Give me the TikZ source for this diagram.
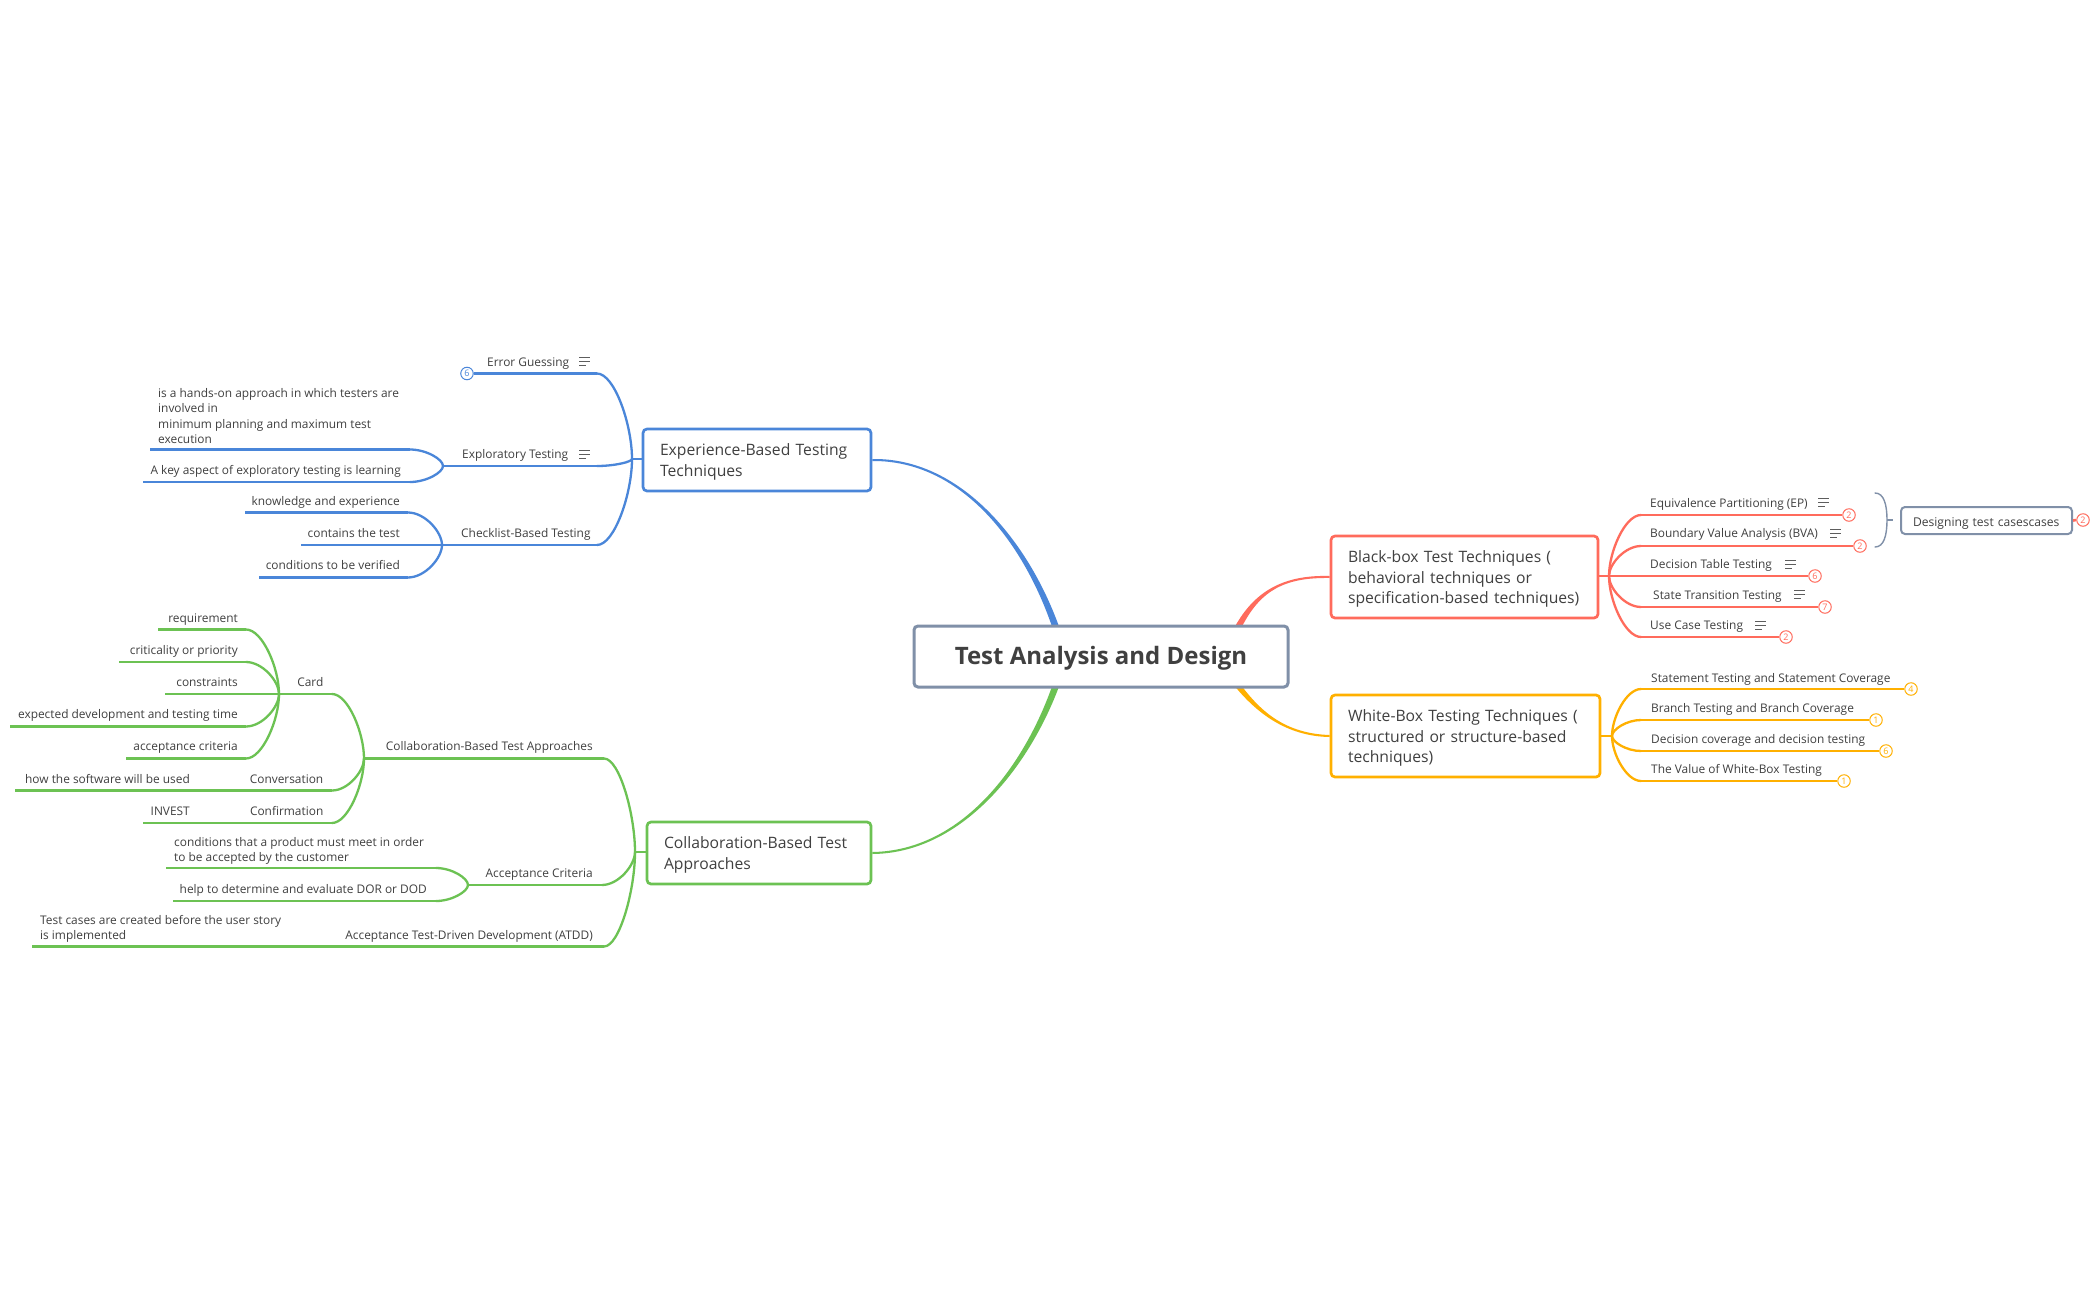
\documentclass[tikz,border=0pt]{standalone}
\usepackage{fontspec}
\setmainfont{Open Sans}
\usetikzlibrary{calc}
\definecolor{cblue}{HTML}{4A86D9}
\definecolor{cgreen}{HTML}{6CC253}
\definecolor{cred}{HTML}{FF6B5C}
\definecolor{cyel}{HTML}{FFB000}
\definecolor{cgray}{HTML}{8090A8}
\definecolor{ctext}{HTML}{404040}
\pgfdeclarelayer{bg}
\pgfsetlayers{bg,main}
\tikzset{
  x=1pt,y=-1pt,
  lbl/.style={inner sep=0pt,text=ctext,font=\fontsize{11.9}{15.6}\selectfont,align=left,yshift=-2pt},
  topbox/.style={draw=#1,fill=white,line width=2.7pt,rounded corners=4pt,inner xsep=17pt,inner ysep=0pt,text=ctext,align=left,font=\fontsize{15.7}{20.5}\selectfont,anchor=center},
  badge/.style={circle,draw=#1,fill=white,text=#1,line width=1pt,minimum size=12.5pt,inner sep=0pt,font=\fontsize{9}{9}\selectfont},
  crv/.style={line width=2.3pt,line cap=round},
  hln/.style={line width=2.6pt},
}
\newcommand{\lnk}[4]{%
  \draw[crv,#1] (#2) .. controls ($(#2|-#3)!.6!(#2)$) and ($(#3)!.5!(#2|-#3)$) .. (#3);
  \draw[hln,#1] (#3) -- (#4);}
\newcommand{\iconl}[2]{%
  \begin{scope}[shift={(#1,#2)},line width=1pt,draw=ctext!85]
  \draw (0,0) -- (11,0); \draw (0,4) -- (11,4); \draw (0,8) -- (6.5,8);
  \end{scope}}
\newcommand{\taper}[7]{% colour, A, c1, c2, B, half width, side
  \fill[#1] ($(#2)+(0,-#7)$) .. controls ($(#3)+(0,-1.3*#7)$) and ($(#4)+(#6*.8,0)$) .. ($(#5)+(#6,0)$) -- ($(#5)+(-#6,0)$) .. controls ($(#4)+(-#6*.8,0)$) and ($(#3)+(0,1.3*#7)$) .. ($(#2)+(0,#7)$) -- cycle;}
\begin{document}
\begin{tikzpicture}
\useasboundingbox (0,0) rectangle (2100,1300);

% --- boxes
\node[topbox=cgray,line width=3pt,minimum width=374pt,minimum height=61pt,align=center,font=\fontsize{24}{28}\selectfont\bfseries,inner xsep=0pt] (central) at (1101,656.5) {\rule{0pt}{22pt}Test Analysis and Design};
\node[topbox=cblue,minimum width=228pt,minimum height=62pt,text width=194pt] (expbox) at (757,460) {\rule{0pt}{16pt}Experience-Based Testing\\Techniques};
\node[topbox=cgreen,minimum width=224pt,minimum height=62pt,text width=190pt] (colbox) at (759,853) {\rule{0pt}{16pt}Collaboration-Based Test\\Approaches};
\node[topbox=cred,minimum width=267pt,minimum height=82pt,text width=233pt] (bbbox) at (1464.5,577) {\rule{0pt}{16pt}Black-box Test Techniques (\\behavioral techniques or\\specification-based techniques)};
\node[topbox=cyel,minimum width=269pt,minimum height=82pt,text width=235pt] (wbbox) at (1465.5,736) {\rule{0pt}{16pt}White-Box Testing Techniques (\\structured or structure-based\\techniques)};
\node[topbox=cgray,line width=2pt,minimum width=171pt,minimum height=27pt,inner xsep=12pt,text width=147pt,font=\fontsize{12.1}{14}\selectfont] (desbox) at (1986.5,520.5) {\rule{0pt}{15pt}Designing test casescases};

% --- central edges
\coordinate (cb) at ($(central.north west)+(143,0)$);
\coordinate (cg) at ($(central.south west)+(143,0)$);
\coordinate (cr) at ($(central.north west)+(326,0)$);
\coordinate (cy) at ($(central.south west)+(326,0)$);
\begin{pgfonlayer}{bg}
\fill[white] (0,0) rectangle (2100,1300);
\taper{cblue}{expbox.east}{960,459}{1025,540}{$(cb)+(0,2)$}{3.5}{1}
\taper{cgreen}{colbox.east}{960,852}{1025,770}{$(cg)+(0,-2)$}{3.5}{-1}
\taper{cred}{bbbox.west}{1285,576}{1258,590}{$(cr)+(0,2)$}{3.5}{-1}
\taper{cyel}{wbbox.west}{1285,735}{1258,711}{$(cy)+(0,-2)$}{3.5}{1}
\end{pgfonlayer}

% --- experience branch (blue)
\coordinate (Jexp) at (632,459);
\draw[hln,cblue] (Jexp) -- (expbox.west|-Jexp);
\node[lbl,anchor=mid west] (eg) at (487,362) {Error Guessing};
\iconl{579}{357}
\node[badge=cblue] (egb) at (467,373.5) {6};
\coordinate (Reg) at (597,373.5);
\lnk{cblue}{Jexp}{Reg}{egb.east}
\node[lbl,anchor=mid west] (et) at (462,454) {Exploratory Testing};
\iconl{579}{450}
\coordinate (Ret) at (597,466);
\coordinate (Jet) at (443,466);
\lnk{cblue}{Jexp}{Ret}{Jet}
\node[lbl,anchor=west] (et1) at (158,414) {is a hands-on approach in which testers are\\involved in\\minimum planning and maximum test\\execution};
\coordinate (Ret1) at (410,449.5); \coordinate (Let1) at (150,449.5);
\lnk{cblue}{Jet}{Ret1}{Let1}
\node[lbl,anchor=mid east] (et2) at (401,470) {A key aspect of exploratory testing is learning};
\coordinate (Ret2) at (410,482); \coordinate (Let2) at (143,482);
\lnk{cblue}{Jet}{Ret2}{Let2}
\node[lbl,anchor=mid west] (cb0) at (461,533) {Checklist-Based Testing};
\coordinate (Rcb) at (597,545); \coordinate (Jcb) at (442,545);
\lnk{cblue}{Jexp}{Rcb}{Jcb}
\node[lbl,anchor=mid east] (cb1) at (400,501) {knowledge and experience};
\coordinate (Rcb1) at (408,512.5); \coordinate (Lcb1) at (245,512.5);
\lnk{cblue}{Jcb}{Rcb1}{Lcb1}
\node[lbl,anchor=mid east] (cb2) at (400,533) {contains the test};
\coordinate (Rcb2) at (408,545); \coordinate (Lcb2) at (301,545);
\lnk{cblue}{Jcb}{Rcb2}{Lcb2}
\node[lbl,anchor=mid east] (cb3) at (400,565) {conditions to be verified};
\coordinate (Rcb3) at (408,577.5); \coordinate (Lcb3) at (259,577.5);
\lnk{cblue}{Jcb}{Rcb3}{Lcb3}

% --- collaboration branch (green)
\coordinate (Jcol) at (635,852);
\draw[hln,cgreen] (Jcol) -- (colbox.west|-Jcol);
\node[lbl,anchor=mid east] (ca) at (593,746) {Collaboration-Based Test Approaches};
\coordinate (Rca) at (604,758.5); \coordinate (Jca) at (364,758.5);
\lnk{cgreen}{Jcol}{Rca}{Jca}
\node[lbl,anchor=mid east] (card) at (323.5,682) {Card};
\coordinate (Rcard) at (332,694); \coordinate (Jcard) at (279,694);
\lnk{cgreen}{Jca}{Rcard}{Jcard}
\node[lbl,anchor=mid east] (c1) at (238,618) {requirement};
\coordinate (Rc1) at (246,629.5); \coordinate (Lc1) at (158,629.5);
\lnk{cgreen}{Jcard}{Rc1}{Lc1}
\node[lbl,anchor=mid east] (c2) at (238,650) {criticality or priority};
\coordinate (Rc2) at (246,662); \coordinate (Lc2) at (119,662);
\lnk{cgreen}{Jcard}{Rc2}{Lc2}
\node[lbl,anchor=mid east] (c3) at (238,682) {constraints};
\coordinate (Rc3) at (246,694); \coordinate (Lc3) at (165,694);
\lnk{cgreen}{Jcard}{Rc3}{Lc3}
\node[lbl,anchor=mid east] (c4) at (238,714) {expected development and testing time};
\coordinate (Rc4) at (246,726.5); \coordinate (Lc4) at (10,726.5);
\lnk{cgreen}{Jcard}{Rc4}{Lc4}
\node[lbl,anchor=mid east] (c5) at (238,746) {acceptance criteria};
\coordinate (Rc5) at (246,758.5); \coordinate (Lc5) at (126,758.5);
\lnk{cgreen}{Jcard}{Rc5}{Lc5}
\node[lbl,anchor=mid east] (conv) at (323.5,779) {Conversation};
\coordinate (Rconv) at (332,790.5); \coordinate (Lconv) at (15,790.5);
\lnk{cgreen}{Jca}{Rconv}{Lconv}
\node[lbl,anchor=mid east] (how) at (190,779) {how the software will be used};
\node[lbl,anchor=mid east] (conf) at (323.5,811) {Confirmation};
\coordinate (Rconf) at (332,823); \coordinate (Lconf) at (143,823);
\lnk{cgreen}{Jca}{Rconf}{Lconf}
\node[lbl,anchor=mid east] (inv) at (190,811) {INVEST};
\node[lbl,anchor=mid east] (ac) at (593,873) {Acceptance Criteria};
\coordinate (Rac) at (602,885); \coordinate (Jac) at (468,885);
\lnk{cgreen}{Jcol}{Rac}{Jac}
\node[lbl,anchor=west] (ac1) at (174,849) {conditions that a product must meet in order\\to be accepted by the customer};
\coordinate (Rac1) at (436,868); \coordinate (Lac1) at (166,868);
\lnk{cgreen}{Jac}{Rac1}{Lac1}
\node[lbl,anchor=mid east] (ac2) at (427,889) {help to determine and evaluate DOR or DOD};
\coordinate (Rac2) at (436,901); \coordinate (Lac2) at (173,901);
\lnk{cgreen}{Jac}{Rac2}{Lac2}
\node[lbl,anchor=mid east] (atdd) at (593,935) {Acceptance Test-Driven Development (ATDD)};
\coordinate (Ratdd) at (604,946.5); \coordinate (Latdd) at (32,946.5);
\lnk{cgreen}{Jcol}{Ratdd}{Latdd}
\node[lbl,anchor=west] (at1) at (40,927) {Test cases are created before the user story\\is implemented};

% --- black-box branch (red)
\coordinate (Jbb) at (1609,576);
\draw[hln,cred] (Jbb) -- (bbbox.east|-Jbb);
\node[lbl,anchor=mid west] (b1) at (1650,503) {Equivalence Partitioning (EP)};
\iconl{1818}{498}
\node[badge=cred] (b1b) at (1849,515) {2};
\coordinate (Rb1) at (1641,515);
\lnk{cred}{Jbb}{Rb1}{b1b.west}
\node[lbl,anchor=mid west] (b2) at (1650,533) {Boundary Value Analysis (BVA)};
\iconl{1830}{529}
\node[badge=cred] (b2b) at (1860,546) {2};
\coordinate (Rb2) at (1641,546);
\lnk{cred}{Jbb}{Rb2}{b2b.west}
\node[lbl,anchor=mid west] (b3) at (1650,564) {Decision Table Testing};
\iconl{1785}{560}
\node[badge=cred] (b3b) at (1815,576) {6};
\coordinate (Rb3) at (1641,576);
\lnk{cred}{Jbb}{Rb3}{b3b.west}
\node[lbl,anchor=mid west] (b4) at (1653,595) {State Transition Testing};
\iconl{1794}{590}
\node[badge=cred] (b4b) at (1825,607) {7};
\coordinate (Rb4) at (1641,607);
\lnk{cred}{Jbb}{Rb4}{b4b.west}
\node[lbl,anchor=mid west] (b5) at (1650,625) {Use Case Testing};
\iconl{1755}{621}
\node[badge=cred] (b5b) at (1786,637) {2};
\coordinate (Rb5) at (1641,637);
\lnk{cred}{Jbb}{Rb5}{b5b.west}

% bracket and its summary
\coordinate (brt) at (1875,493); \coordinate (brb) at (1875,547); \coordinate (brm) at (1887,520); \coordinate (brs) at (1893,520);
\draw[line width=1.4pt,cgray,line cap=round] (brt) .. controls (1884,493) and (1887,505) .. (brm) .. controls (1887,535) and (1884,547) .. (brb);
\draw[line width=1.2pt,cgray] (brm) -- (brs);
\node[badge=cred] (db) at (2083,520) {2};
\draw[hln,cred] (desbox.east) -- (db.west);

% --- white-box branch (yellow)
\coordinate (Jwb) at (1612,736);
\draw[hln,cyel] (Jwb) -- (wbbox.east|-Jwb);
\node[lbl,anchor=mid west] (w1) at (1651,678) {Statement Testing and Statement Coverage};
\node[badge=cyel] (w1b) at (1911,689) {4};
\coordinate (Rw1) at (1641,689);
\lnk{cyel}{Jwb}{Rw1}{w1b.west}
\node[lbl,anchor=mid west] (w2) at (1651,708) {Branch Testing and Branch Coverage};
\node[badge=cyel] (w2b) at (1876,720) {1};
\coordinate (Rw2) at (1641,720);
\lnk{cyel}{Jwb}{Rw2}{w2b.west}
\node[lbl,anchor=mid west] (w3) at (1651,739) {Decision coverage and decision testing};
\node[badge=cyel] (w3b) at (1886,751) {6};
\coordinate (Rw3) at (1641,751);
\lnk{cyel}{Jwb}{Rw3}{w3b.west}
\node[lbl,anchor=mid west] (w4) at (1651,769) {The Value of White-Box Testing};
\node[badge=cyel] (w4b) at (1844,781) {1};
\coordinate (Rw4) at (1641,781);
\lnk{cyel}{Jwb}{Rw4}{w4b.west}
\end{tikzpicture}
\end{document}
